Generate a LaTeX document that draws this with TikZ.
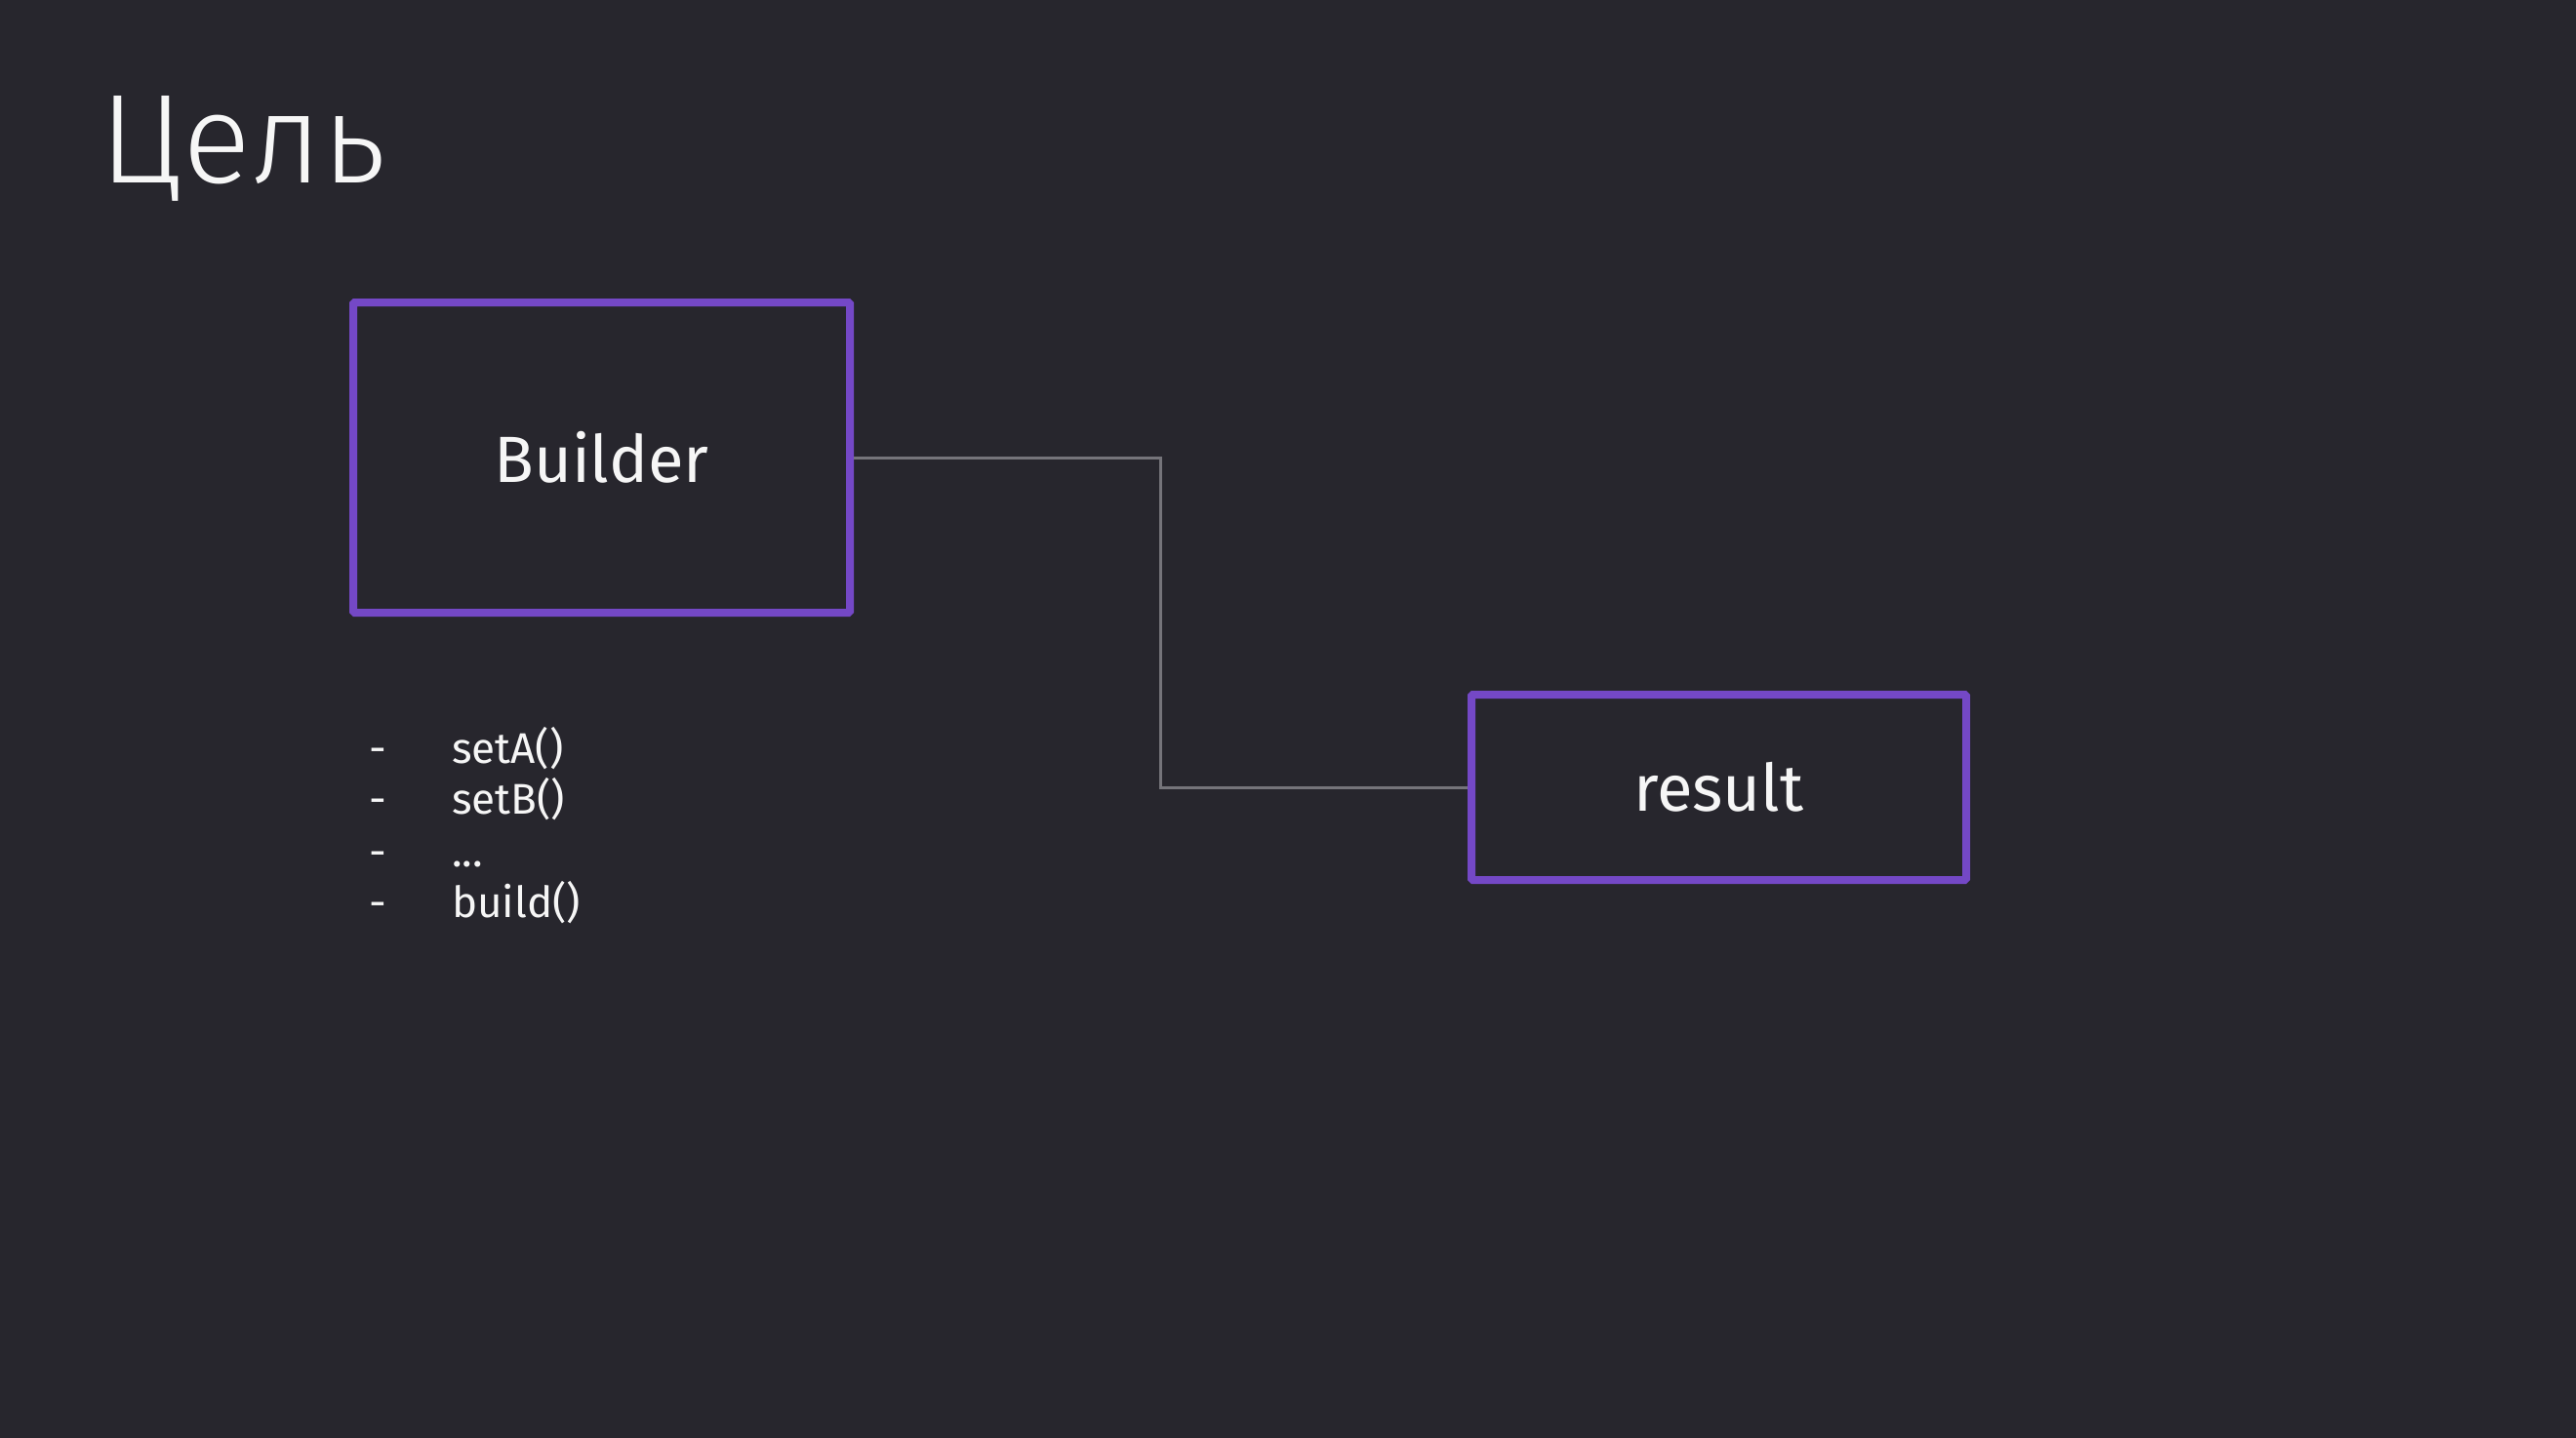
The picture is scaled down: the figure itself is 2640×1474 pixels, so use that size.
\documentclass[tikz,border=0pt]{standalone}
\usepackage{fontspec}
\setmainfont{Fira Sans}
\newfontfamily\titlefont{Fira Sans Light}
\definecolor{bg}{HTML}{27262D}
\definecolor{purp}{HTML}{7448C6}
\definecolor{conn}{HTML}{75747A}
\definecolor{txt}{HTML}{F6F6F6}
\begin{document}
\begin{tikzpicture}[x=1pt,y=-1pt,
  box/.style={draw=purp,line width=8pt,rounded corners=1.5pt,inner sep=0pt,text=txt,font=\fontsize{67}{80}\selectfont},
  listtext/.style={anchor=base west,inner sep=0pt,text=txt,font=\fontsize{44}{52}\selectfont},
  wire/.style={draw=conn,line width=3pt}]
\useasboundingbox (0,0) rectangle (2640,1474);
\fill[bg] (0,0) rectangle (2640,1474);
\node[anchor=base west,inner sep=0pt,text=txt,font=\titlefont\fontsize{130}{150}\selectfont] (title) at (102,188) {Цель};
\node[box,minimum width=509pt,minimum height=318pt] (B) at (616.5,469) {Builder};
\node[box,minimum width=507pt,minimum height=190pt] (R) at (1761.5,807) {result};
\coordinate (k) at (1189,638);
\draw[wire] (B.east) -| (k) |- (R.west);
\node[listtext] (d1) at (378,782) {-};
\node[listtext] (d2) at (378,834) {-};
\node[listtext] (d3) at (378,888) {-};
\node[listtext] (d4) at (378,940) {-};
\node[listtext] (m1) at (463,782) {setA()};
\node[listtext] (m2) at (463,834) {setB()};
\node[listtext] (m3) at (463,888) {...};
\node[listtext] (m4) at (463,940) {build()};
\end{tikzpicture}
\end{document}
